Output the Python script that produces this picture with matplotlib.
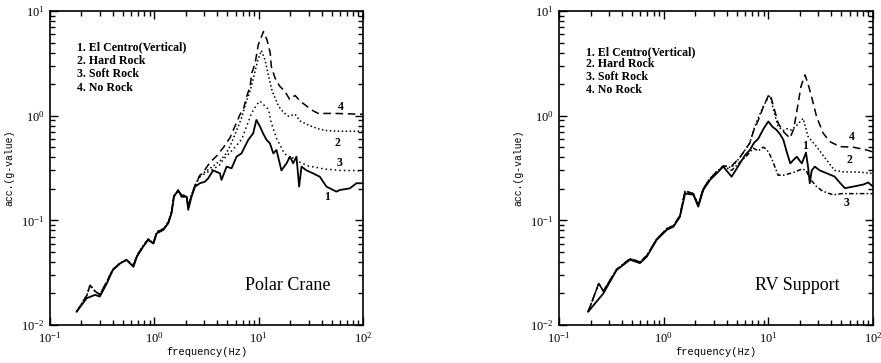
import matplotlib
matplotlib.use("Agg")
import matplotlib.pyplot as plt
from matplotlib.ticker import LogLocator, NullFormatter

plt.rcParams['font.family'] = ['Liberation Serif', 'DejaVu Serif']
plt.rcParams['mathtext.fontset'] = 'custom'
plt.rcParams['mathtext.rm'] = 'Liberation Mono'
plt.rcParams['mathtext.it'] = 'Liberation Mono'

legend_lines = ["1. El Centro(Vertical)", "2. Hard Rock", "3. Soft Rock", "4. No Rock"]

# ---- Polar Crane (left) ----
pc_f1 = [0.18, 0.224, 0.27, 0.30, 0.35, 0.40, 0.47, 0.54, 0.63, 0.68, 0.78, 0.87, 0.98, 1.05,
         1.22, 1.36, 1.46, 1.54, 1.69, 1.82, 2.04, 2.11, 2.27, 2.45, 2.73, 3.05, 3.28, 3.66,
         4.25, 4.40, 4.92, 5.49, 6.13, 6.84, 7.36, 7.93, 8.85, 9.5, 10.3, 11.0, 11.9, 12.8,
         13.8, 14.8, 16.5, 18.5, 19.9, 21.4, 23.0, 24.4, 25.7, 28.7, 33.2, 38.5, 44.6, 51.6,
         55.6, 59.8, 74.6, 86.4, 98.6]
pc_a1 = [0.0134, 0.018, 0.0194, 0.0187, 0.025, 0.0335, 0.0388, 0.0418, 0.036, 0.045, 0.056,
         0.065, 0.060, 0.075, 0.081, 0.094, 0.117, 0.168, 0.195, 0.168, 0.168, 0.126, 0.168,
         0.21, 0.226, 0.234, 0.252, 0.30, 0.281, 0.243, 0.326, 0.314, 0.406, 0.436, 0.506,
         0.586, 0.678, 0.91, 0.785, 0.678, 0.586, 0.544, 0.436, 0.47, 0.30, 0.351, 0.406,
         0.351, 0.406, 0.21, 0.326, 0.30, 0.281, 0.261, 0.21, 0.195, 0.188, 0.195, 0.202,
         0.226, 0.226]
# the rock cases follow curve 1 below ~2.5 Hz
pc_low_f = [0.18, 0.224, 0.242, 0.27, 0.30, 0.35, 0.40, 0.47, 0.54, 0.63, 0.68, 0.78, 0.87,
            0.98, 1.05, 1.22, 1.36, 1.46, 1.54, 1.69, 1.82, 2.04, 2.11, 2.27, 2.45]
pc_low_a = [0.0134, 0.019, 0.024, 0.021, 0.0195, 0.026, 0.034, 0.039, 0.042, 0.037, 0.046,
            0.057, 0.066, 0.061, 0.077, 0.083, 0.096, 0.12, 0.172, 0.19, 0.175, 0.17, 0.135,
            0.175, 0.215]
pc_f2 = [2.73, 3.05, 3.66, 4.25, 4.92, 5.49, 6.13, 6.84, 7.5, 8.3, 9.0, 9.8, 10.6, 11.5, 12.4,
         13.5, 15.5, 17.3, 19.3, 22.3, 24.9, 31.0, 38.6, 45.0, 60.0, 98.0]
pc_a2 = [0.27, 0.29, 0.33, 0.37, 0.44, 0.55, 0.72, 0.95, 1.3, 1.75, 2.4, 3.4, 4.2, 3.4, 2.4,
         1.7, 1.23, 1.07, 0.99, 1.03, 0.89, 0.80, 0.74, 0.72, 0.71, 0.71]
pc_f3 = [2.73, 3.05, 3.68, 4.25, 4.59, 5.72, 6.88, 7.69, 8.59, 9.6, 10.3, 11.5, 12.4, 13.2,
         14.9, 17.3, 19.8, 22.0, 24.9, 30.0, 36.0, 41.8, 60.0, 98.0]
pc_a3 = [0.26, 0.28, 0.309, 0.34, 0.385, 0.479, 0.596, 0.80, 1.07, 1.28, 1.38, 1.23, 1.15,
         0.85, 0.60, 0.45, 0.385, 0.40, 0.358, 0.33, 0.32, 0.31, 0.30, 0.298]
pc_f4 = [2.73, 2.85, 3.42, 3.96, 4.59, 5.32, 5.94, 6.63, 7.13, 7.69, 8.27, 8.59, 9.25, 9.9,
         11.1, 12.0, 12.9, 13.2, 14.3, 15.9, 17.8, 19.8, 22.3, 24.9, 28.9, 33.4, 37.3, 56.0,
         98.0]
pc_a4 = [0.27, 0.277, 0.358, 0.413, 0.497, 0.618, 0.80, 1.03, 1.15, 1.54, 1.91, 2.56, 3.19,
         4.75, 6.36, 5.3, 3.96, 2.96, 2.30, 1.91, 1.71, 1.43, 1.56, 1.38, 1.23, 1.11, 1.05,
         1.05, 1.03]

# ---- RV Support (right) ----
rv_f1 = [0.19, 0.265, 0.356, 0.477, 0.594, 0.69, 0.857, 1.07, 1.24, 1.43, 1.60, 1.92, 2.14,
         2.39, 2.77, 3.2, 3.71, 4.46, 5.36, 6.0, 6.67, 7.3, 8.0, 9.0, 10.0, 11.0, 12.0, 13.0,
         13.9, 15.0, 16.2, 17.5, 18.7, 20.0, 20.9, 22.9, 24.0, 24.9, 26.0, 27.8, 31.0, 36.0,
         43.0, 48.0, 53.9, 64.7, 81.0, 90.0, 100.0]
rv_a1 = [0.0134, 0.020, 0.0336, 0.042, 0.039, 0.045, 0.065, 0.081, 0.087, 0.108, 0.18, 0.176,
         0.135, 0.195, 0.243, 0.28, 0.326, 0.261, 0.35, 0.42, 0.47, 0.55, 0.60, 0.75, 0.88,
         0.78, 0.73, 0.66, 0.59, 0.45, 0.35, 0.38, 0.405, 0.37, 0.35, 0.444, 0.32, 0.226, 0.30,
         0.326, 0.30, 0.282, 0.262, 0.23, 0.203, 0.21, 0.22, 0.23, 0.21]
rv_low_f = [0.19, 0.24, 0.265, 0.356, 0.477, 0.594, 0.69, 0.857, 1.07, 1.24, 1.43, 1.60,
            1.92, 2.14, 2.39, 2.77, 3.2, 3.71]
rv_low_a = [0.0134, 0.025, 0.021, 0.034, 0.043, 0.040, 0.046, 0.066, 0.083, 0.089, 0.11,
            0.19, 0.18, 0.14, 0.20, 0.25, 0.29, 0.33]
rv_f2 = [4.46, 5.36, 6.67, 7.18, 8.0, 8.93, 10.0, 10.4, 11.3, 12.4, 14.0, 15.0, 16.7, 19.0,
         21.5, 24.0, 28.9, 36.0, 43.0, 53.0, 70.0, 100.0]
rv_a2 = [0.32, 0.40, 0.55, 0.72, 0.95, 1.22, 1.5, 1.55, 1.1, 0.785, 0.72, 0.75, 0.73, 0.82,
         0.94, 0.63, 0.506, 0.377, 0.30, 0.29, 0.29, 0.28]
rv_f3 = [4.46, 5.36, 6.3, 7.18, 8.0, 8.93, 9.6, 10.4, 11.1, 12.4, 14.0, 16.0, 18.0, 21.0,
         23.0, 25.0, 28.9, 33.0, 41.7, 50.0, 70.0, 100.0]
rv_a3 = [0.30, 0.36, 0.42, 0.49, 0.46, 0.50, 0.48, 0.42, 0.36, 0.27, 0.27, 0.28, 0.29, 0.31,
         0.30, 0.25, 0.21, 0.19, 0.175, 0.18, 0.18, 0.18]
rv_f4 = [4.46, 5.36, 6.67, 7.18, 8.0, 8.93, 10.0, 10.4, 11.3, 12.4, 14.0, 16.1, 17.5, 19.0,
         20.5, 22.4, 24.0, 25.9, 28.9, 33.4, 38.7, 48.3, 64.7, 86.9, 100.0]
rv_a4 = [0.33, 0.40, 0.55, 0.70, 0.90, 1.2, 1.55, 1.6, 1.2, 0.85, 0.70, 0.61, 0.75, 1.2, 1.9,
         2.45, 2.0, 1.52, 0.98, 0.68, 0.565, 0.506, 0.50, 0.47, 0.45]


def style_axes(ax, title):
    ax.set_xscale('log')
    ax.set_yscale('log')
    ax.set_xlim(0.1, 100)
    ax.set_ylim(0.01, 10)
    ax.xaxis.set_major_locator(LogLocator(base=10, numticks=10))
    ax.yaxis.set_major_locator(LogLocator(base=10, numticks=10))
    ax.xaxis.set_minor_locator(LogLocator(base=10, subs=range(2, 10), numticks=20))
    ax.yaxis.set_minor_locator(LogLocator(base=10, subs=range(2, 10), numticks=20))
    ax.yaxis.set_minor_formatter(NullFormatter())
    ax.xaxis.set_minor_formatter(NullFormatter())
    ax.tick_params(which='both', direction='in', top=True, right=True, width=1.0,
                   labelsize=9, pad=4)
    ax.tick_params(which='major', length=6)
    ax.tick_params(which='minor', length=3.5)
    for sp in ax.spines.values():
        sp.set_linewidth(1.2)
    ax.set_xlabel('frequency(Hz)', family='Liberation Mono', fontsize=7.5, labelpad=1)
    ax.set_ylabel('acc.(g-value)', family='Liberation Mono', fontsize=7, labelpad=5)
    ax.text(0.76, 0.127, title, transform=ax.transAxes, fontsize=13, ha='center', va='center')


def draw(ax, c1, c2, c3, c4, low, ls3, labels, legend_y):
    ax.plot(c1[0], c1[1], color='black', lw=1.3, ls='-')
    ax.plot(low[0] + c2[0], low[1] + c2[1], color='black', lw=1.1, ls=(0, (1, 1.6)))
    ax.plot(low[0] + c3[0], low[1] + c3[1], color='black', lw=1.1, ls=ls3)
    ax.plot(low[0] + c4[0], low[1] + c4[1], color='black', lw=1.1, ls=(0, (5, 3)))
    for txt, y in zip(legend_lines, legend_y):
        ax.text(0.085, y, txt, transform=ax.transAxes, fontsize=8.6, fontweight='bold',
                va='center', ha='left')
    for num, (fx, gy) in labels.items():
        ax.text(fx, gy, num, fontsize=8.5, fontweight='bold', ha='center', va='center')


fig = plt.figure(figsize=(8.81, 3.63), dpi=100)
ax1 = fig.add_axes([0.0568, 0.1047, 0.3553, 0.865])
ax2 = fig.add_axes([0.6345, 0.1047, 0.3564, 0.865])

style_axes(ax1, 'Polar Crane')
draw(ax1, (pc_f1, pc_a1), (pc_f2, pc_a2), (pc_f3, pc_a3), (pc_f4, pc_a4),
     (pc_low_f, pc_low_a), (0, (1, 2)),
     {'4': (61, 1.22), '2': (56.4, 0.55), '3': (58.9, 0.353), '1': (45.2, 0.167)},
     [0.885, 0.841, 0.800, 0.756])

style_axes(ax2, 'RV Support')
draw(ax2, (rv_f1, rv_a1), (rv_f2, rv_a2), (rv_f3, rv_a3), (rv_f4, rv_a4),
     (rv_low_f, rv_low_a), (0, (3, 1.5, 1, 1.5)),
     {'4': (62.5, 0.62), '2': (60, 0.377), '3': (56, 0.146), '1': (22.4, 0.514)},
     [0.870, 0.830, 0.789, 0.748])

fig.savefig('out.png', dpi=100)
